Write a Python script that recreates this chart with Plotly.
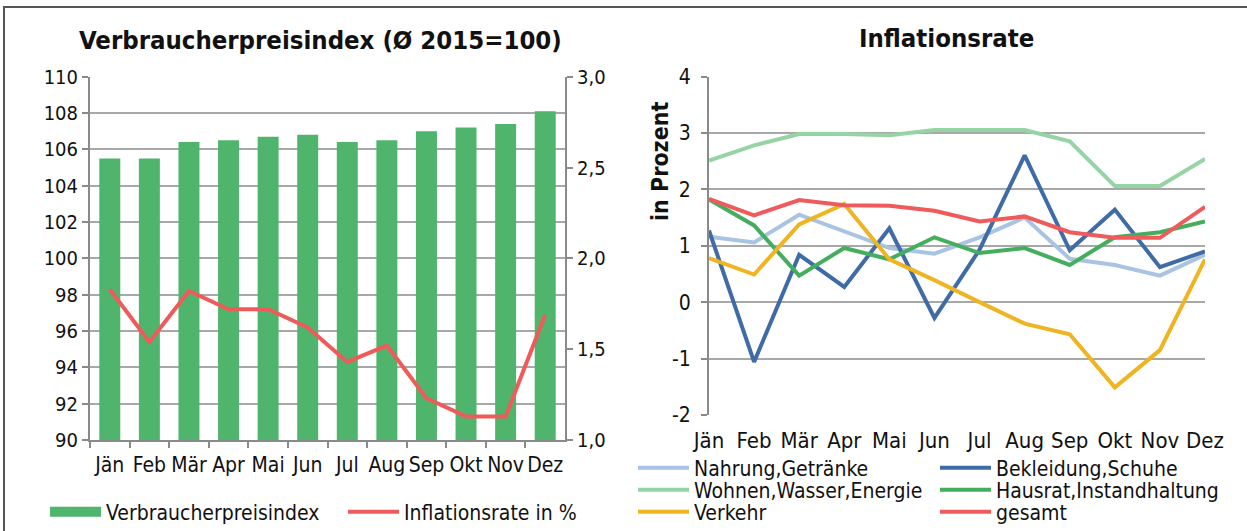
import plotly.graph_objects as go

months = ["Jän", "Feb", "Mär", "Apr", "Mai", "Jun", "Jul", "Aug", "Sep", "Okt", "Nov", "Dez"]

# left chart
vpi = [105.5, 105.5, 106.4, 106.5, 106.7, 106.8, 106.4, 106.5, 107.0, 107.2, 107.4, 108.1]
inflation = [1.83, 1.54, 1.82, 1.72, 1.72, 1.62, 1.43, 1.52, 1.23, 1.13, 1.13, 1.69]

# right chart
nahrung = [1.16, 1.06, 1.55, 1.25, 0.96, 0.86, 1.15, 1.50, 0.77, 0.66, 0.47, 0.84]
bekleidung = [1.27, -1.06, 0.84, 0.27, 1.31, -0.28, 0.93, 2.60, 0.92, 1.64, 0.62, 0.90]
wohnen = [2.51, 2.78, 2.98, 2.98, 2.96, 3.05, 3.05, 3.05, 2.85, 2.06, 2.06, 2.54]
hausrat = [1.82, 1.36, 0.47, 0.96, 0.76, 1.15, 0.87, 0.96, 0.66, 1.15, 1.24, 1.43]
verkehr = [0.78, 0.49, 1.38, 1.74, 0.76, 0.39, 0.0, -0.38, -0.57, -1.51, -0.85, 0.76]
gesamt = [1.83, 1.54, 1.81, 1.72, 1.71, 1.62, 1.43, 1.52, 1.24, 1.14, 1.14, 1.69]

right_ticks = [-2, -1, 0, 1, 2, 3, 4]
right_ticktext = ["-2", "-1", "0", "1", "2", "3", "4"]

W, H = 1247, 531
FONT = "DejaVu Sans Condensed"
GRID = "#A8A8A8"
AXIS = "#8A8A8A"


def px_x(v):
    return v / W


def px_y(v):
    return 1 - v / H


fig = go.Figure()

# ---- left chart ----
fig.add_trace(go.Bar(x=months, y=vpi, marker=dict(color="#50B56C", line=dict(width=0)),
                     name="Verbraucherpreisindex", showlegend=False, xaxis="x", yaxis="y"))
fig.add_trace(go.Scatter(x=[None], y=[None], mode="lines", line=dict(color="#50B56C", width=12),
                         name="Verbraucherpreisindex", legend="legend", xaxis="x", yaxis="y"))
fig.add_trace(go.Scatter(x=months, y=inflation, mode="lines", line=dict(color="#EF5B5B", width=4),
                         name="Inflationsrate in %", legend="legend", xaxis="x", yaxis="y2"))

# ---- right chart ----
series = [
    ("Nahrung,Getränke", nahrung, "#A9C3E3", "legend2"),
    ("Bekleidung,Schuhe", bekleidung, "#3F6BA6", "legend2"),
    ("Wohnen,Wasser,Energie", wohnen, "#97D4A5", "legend3"),
    ("Hausrat,Instandhaltung", hausrat, "#45AD5E", "legend3"),
    ("Verkehr", verkehr, "#EFB421", "legend4"),
    ("gesamt", gesamt, "#EF5B5B", "legend4"),
]
for name, vals, col, lg in series:
    fig.add_trace(go.Scatter(x=list(range(12)), y=vals, mode="lines", line=dict(color=col, width=4),
                             name=name, legend=lg, xaxis="x2", yaxis="y3"))

ld = [px_y(440), px_y(76.7)]
rd = [px_y(415), px_y(76.5)]
zero_pos = rd[0] + (0 - (-2)) / 6 * (rd[1] - rd[0])

ax_common = dict(linecolor=AXIS, linewidth=2, tickcolor=AXIS, tickwidth=2, ticklen=6)

legend_common = dict(orientation="h", xanchor="left", yanchor="middle", font=dict(size=21),
                     itemwidth=51, bgcolor="rgba(0,0,0,0)", borderwidth=0)

fig.update_layout(
    width=W, height=H,
    margin=dict(l=0, r=0, t=0, b=0, autoexpand=False),
    paper_bgcolor="white", plot_bgcolor="rgba(0,0,0,0)",
    separators=",.",
    font=dict(family=FONT, size=22, color="#111111"),
    bargap=0.47,
    xaxis=dict(domain=[px_x(90), px_x(565)], anchor="y", type="category", tickangle=0,
               showline=True, ticks="outside", tickson="boundaries", showgrid=False,
               ticklabelstandoff=5, tickfont=dict(size=21), **ax_common),
    yaxis=dict(domain=ld, anchor="x", range=[90, 110], dtick=2, showgrid=True, gridcolor=GRID,
               gridwidth=2, showline=True, ticks="outside", zeroline=False, ticklabelstandoff=0,
               tickfont=dict(size=20), **ax_common),
    yaxis2=dict(overlaying="y", side="right", anchor="x", range=[1, 3], dtick=0.5, tickformat=".1f",
                showgrid=False, showline=True, ticks="outside", zeroline=False, ticklabelstandoff=0,
                tickfont=dict(size=20), **ax_common),
    xaxis2=dict(domain=[px_x(709), px_x(1205)], anchor="y3", range=[0, 11], tickangle=0,
                tickvals=list(range(12)), ticktext=months, showline=False, ticks="",
                showgrid=False, zeroline=False, ticklabelstandoff=10, tickfont=dict(size=22)),
    xaxis3=dict(overlaying="x2", anchor="free", position=zero_pos, range=[0, 11], dtick=1,
                showticklabels=False, showline=True, ticks="outside", showgrid=False,
                zeroline=False, **ax_common),
    yaxis3=dict(domain=rd, anchor="x2", range=[-2, 4], tickvals=right_ticks,
                ticktext=right_ticktext, showgrid=True, gridcolor=GRID,
                gridwidth=2, showline=True, ticks="outside", zeroline=False, ticklabelstandoff=6,
                tickfont=dict(size=21), **ax_common),
    legend=dict(x=px_x(45), y=px_y(512), entrywidth=232, **legend_common),
    legend2=dict(x=px_x(633), y=px_y(468), entrywidth=236, **legend_common),
    legend3=dict(x=px_x(633), y=px_y(490), entrywidth=236, **legend_common),
    legend4=dict(x=px_x(633), y=px_y(512), entrywidth=236, **legend_common),
    shapes=[dict(type="rect", xref="paper", yref="paper", x0=px_x(4), x1=1.2, y0=-0.2, y1=px_y(7),
                 line=dict(color="#555555", width=2), fillcolor="rgba(0,0,0,0)", layer="below")],
    annotations=[
        dict(text="<b>Verbraucherpreisindex (Ø 2015=100)</b>", xref="paper", yref="paper",
             x=px_x(320), y=px_y(40), showarrow=False, font=dict(size=25.5), xanchor="center",
             yanchor="middle"),
        dict(text="<b>Inflationsrate</b>", xref="paper", yref="paper",
             x=px_x(946), y=px_y(38), showarrow=False, font=dict(size=25.5), xanchor="center",
             yanchor="middle"),
        dict(text="<b>in Prozent</b>", xref="paper", yref="paper", x=px_x(660), y=px_y(162),
             showarrow=False, font=dict(size=23), textangle=-90, xanchor="center",
             yanchor="middle"),
    ],
)

fig.write_html("out.html", config={"displayModeBar": False},
               post_script="document.body.style.margin='0px';")
